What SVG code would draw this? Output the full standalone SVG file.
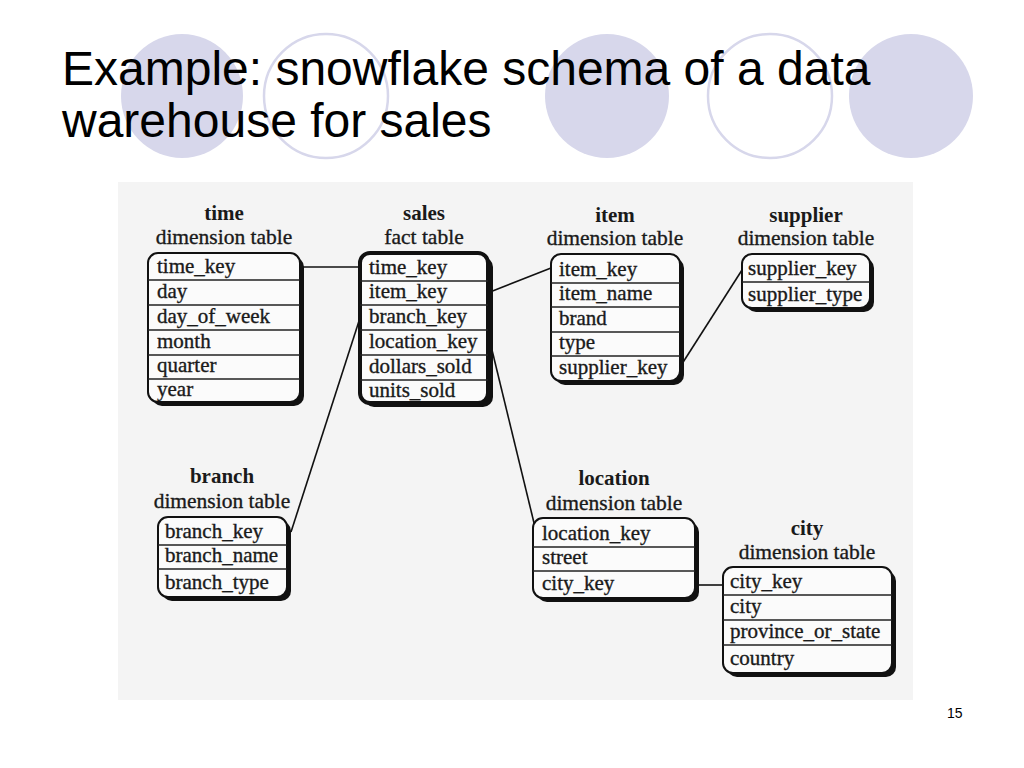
<svg xmlns="http://www.w3.org/2000/svg" width="1024" height="768" viewBox="0 0 1024 768">
<style>
.dot{fill:#d7d7eb}
.ring{fill:#ffffff;stroke:#d7d7eb;stroke-width:2.5}
.title{font-family:"Liberation Sans",Arial,sans-serif;font-size:48px;fill:#000}
.pg{font-family:"Liberation Sans",Arial,sans-serif;font-size:14px;fill:#000}
.shadow{fill:#111}
.box{fill:#fbfbfb;stroke:#111;stroke-width:2}
.fact{fill:#fbfbfb;stroke:#111;stroke-width:4}
.sep{stroke:#222;stroke-width:1.4}
.row{font-family:"Liberation Serif","Times New Roman",serif;font-size:21px;fill:#1a1a1a;stroke:#1a1a1a;stroke-width:0.35}
.hname{font-family:"Liberation Serif","Times New Roman",serif;font-size:21px;font-weight:bold;fill:#1a1a1a;text-anchor:middle}
.hsub{font-family:"Liberation Serif","Times New Roman",serif;font-size:21.5px;fill:#1a1a1a;stroke:#1a1a1a;stroke-width:0.35;text-anchor:middle}
.link{stroke:#111;stroke-width:1.6;fill:none}
</style>
<rect width="1024" height="768" fill="#ffffff"/>
<g id="decor">
<ellipse class="dot" cx="182" cy="96" rx="61" ry="62"/>
<ellipse class="ring" cx="326" cy="96" rx="62" ry="62"/>
<ellipse class="dot" cx="607" cy="96" rx="62" ry="62"/>
<ellipse class="ring" cx="770" cy="96" rx="62" ry="62"/>
<ellipse class="dot" cx="911" cy="96" rx="62" ry="62"/>
</g>
<text class="title" x="62" y="85">Example: snowflake schema of a data</text>
<text class="title" x="62" y="137">warehouse for sales</text>
<rect x="118" y="182" width="795" height="518" fill="#f4f4f4"/>
<g id="connectors">
<line class="link" x1="300" y1="267" x2="360" y2="267"/>
<line class="link" x1="490" y1="292" x2="551" y2="268"/>
<line class="link" x1="680" y1="367" x2="742" y2="270"/>
<line class="link" x1="359" y1="321" x2="291" y2="532"/>
<line class="link" x1="492" y1="350" x2="535" y2="527"/>
<line class="link" x1="695" y1="585" x2="723" y2="585"/>
</g>
<g id="time">
<text class="hname" x="224" y="220">time</text>
<text class="hsub" x="224" y="244">dimension table</text>
<rect class="shadow" x="152" y="257" width="152" height="149" rx="10"/>
<rect class="box" x="148" y="253" width="152" height="149" rx="10"/>
<line class="sep" x1="148" y1="280" x2="300" y2="280"/>
<line class="sep" x1="148" y1="305" x2="300" y2="305"/>
<line class="sep" x1="148" y1="330" x2="300" y2="330"/>
<line class="sep" x1="148" y1="355" x2="300" y2="355"/>
<line class="sep" x1="148" y1="379" x2="300" y2="379"/>
<text class="row" x="157" y="273">time_key</text>
<text class="row" x="157" y="298">day</text>
<text class="row" x="157" y="323">day_of_week</text>
<text class="row" x="157" y="348">month</text>
<text class="row" x="157" y="372">quarter</text>
<text class="row" x="157" y="396">year</text>
</g>
<g id="sales">
<text class="hname" x="424" y="220">sales</text>
<text class="hsub" x="424" y="244">fact table</text>
<rect class="shadow" x="364" y="257" width="129" height="150" rx="10"/>
<rect class="fact" x="360" y="253" width="128" height="150" rx="10"/>
<line class="sep" x1="360" y1="281" x2="488" y2="281"/>
<line class="sep" x1="360" y1="305" x2="488" y2="305"/>
<line class="sep" x1="360" y1="330" x2="488" y2="330"/>
<line class="sep" x1="360" y1="355" x2="488" y2="355"/>
<line class="sep" x1="360" y1="380" x2="488" y2="380"/>
<text class="row" x="369" y="274">time_key</text>
<text class="row" x="369" y="298">item_key</text>
<text class="row" x="369" y="323">branch_key</text>
<text class="row" x="369" y="348">location_key</text>
<text class="row" x="369" y="373">dollars_sold</text>
<text class="row" x="369" y="397">units_sold</text>
</g>
<g id="item">
<text class="hname" x="615" y="222">item</text>
<text class="hsub" x="615" y="245">dimension table</text>
<rect class="shadow" x="555" y="258" width="129" height="127" rx="10"/>
<rect class="box" x="551" y="254" width="129" height="127" rx="10"/>
<line class="sep" x1="551" y1="283" x2="680" y2="283"/>
<line class="sep" x1="551" y1="307" x2="680" y2="307"/>
<line class="sep" x1="551" y1="332" x2="680" y2="332"/>
<line class="sep" x1="551" y1="356" x2="680" y2="356"/>
<text class="row" x="559" y="276">item_key</text>
<text class="row" x="559" y="300">item_name</text>
<text class="row" x="559" y="325">brand</text>
<text class="row" x="559" y="349">type</text>
<text class="row" x="559" y="374">supplier_key</text>
</g>
<g id="supplier">
<text class="hname" x="806" y="222">supplier</text>
<text class="hsub" x="806" y="245">dimension table</text>
<rect class="shadow" x="746" y="258" width="128" height="54" rx="10"/>
<rect class="box" x="742" y="254" width="128" height="54" rx="10"/>
<line class="sep" x1="742" y1="282" x2="870" y2="282"/>
<text class="row" x="748" y="275">supplier_key</text>
<text class="row" x="748" y="301">supplier_type</text>
</g>
<g id="branch">
<text class="hname" x="222" y="483">branch</text>
<text class="hsub" x="222" y="508">dimension table</text>
<rect class="shadow" x="162" y="521" width="129" height="80" rx="10"/>
<rect class="box" x="158" y="517" width="129" height="80" rx="10"/>
<line class="sep" x1="158" y1="545" x2="287" y2="545"/>
<line class="sep" x1="158" y1="569" x2="287" y2="569"/>
<text class="row" x="165" y="538">branch_key</text>
<text class="row" x="165" y="562">branch_name</text>
<text class="row" x="165" y="589">branch_type</text>
</g>
<g id="location">
<text class="hname" x="614" y="485">location</text>
<text class="hsub" x="614" y="510">dimension table</text>
<rect class="shadow" x="537" y="522" width="162" height="80" rx="10"/>
<rect class="box" x="533" y="518" width="162" height="80" rx="10"/>
<line class="sep" x1="533" y1="547" x2="695" y2="547"/>
<line class="sep" x1="533" y1="571" x2="695" y2="571"/>
<text class="row" x="542" y="540">location_key</text>
<text class="row" x="542" y="564">street</text>
<text class="row" x="542" y="590">city_key</text>
</g>
<g id="city">
<text class="hname" x="807" y="535">city</text>
<text class="hsub" x="807" y="559">dimension table</text>
<rect class="shadow" x="727" y="571" width="169" height="106" rx="10"/>
<rect class="box" x="723" y="567" width="169" height="106" rx="10"/>
<line class="sep" x1="723" y1="595" x2="892" y2="595"/>
<line class="sep" x1="723" y1="620" x2="892" y2="620"/>
<line class="sep" x1="723" y1="645" x2="892" y2="645"/>
<text class="row" x="730" y="588">city_key</text>
<text class="row" x="730" y="613">city</text>
<text class="row" x="730" y="638">province_or_state</text>
<text class="row" x="730" y="665">country</text>
</g>
<text class="pg" x="947" y="718">15</text>
</svg>
